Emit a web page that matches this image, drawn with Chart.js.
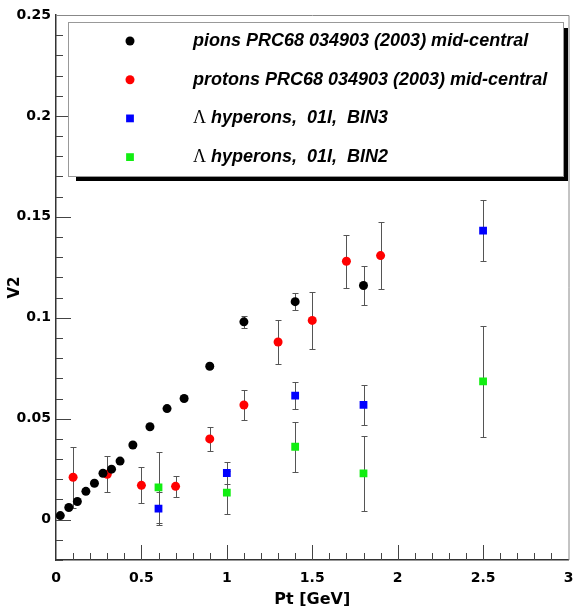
<!DOCTYPE html>
<html>
<head>
<meta charset="utf-8">
<script src="https://cdn.jsdelivr.net/npm/chart.js@4.4.0/dist/chart.umd.min.js"></script>
<style>
  html, body { margin: 0; padding: 0; background: #fff; }
  #wrap { position: relative; width: 574px; height: 609px; }
</style>
</head>
<body>
<div id="wrap"><canvas id="v2Chart" width="574" height="609"></canvas></div>
<script>
// pions PRC68 034903 (2003) mid-central
const pionPt  = [0.025, 0.075, 0.125, 0.175, 0.225, 0.275, 0.325, 0.375, 0.45, 0.55, 0.65, 0.75, 0.9, 1.1, 1.4, 1.8];
const pionV2  = [0.002, 0.006, 0.009, 0.014, 0.018, 0.023, 0.025, 0.029, 0.037, 0.046, 0.055, 0.060, 0.076, 0.098, 0.108, 0.116];
const pionErr = [0, 0, 0, 0, 0, 0, 0, 0, 0, 0, 0, 0, 0.001, 0.003, 0.0043, 0.0097];

// protons PRC68 034903 (2003) mid-central
const protonPt  = [0.1, 0.3, 0.5, 0.7, 0.9, 1.1, 1.3, 1.5, 1.7, 1.9];
const protonV2  = [0.021, 0.0225, 0.017, 0.0165, 0.040, 0.0568, 0.088, 0.0987, 0.128, 0.1308];
const protonErr = [0.015, 0.009, 0.009, 0.0053, 0.006, 0.0076, 0.0107, 0.014, 0.013, 0.0166];

// lambda hyperons, 01I
const lambdaPt = [0.6, 1.0, 1.4, 1.8, 2.5];
const bin3V2   = [0.0055, 0.0231, 0.0614, 0.0569, 0.1432];
const bin3Err  = [0.0083, 0.0055, 0.0066, 0.0098, 0.015];
const bin2V2   = [0.016, 0.0134, 0.0361, 0.0229, 0.0685];
const bin2Err  = [0.0175, 0.0108, 0.0125, 0.0184, 0.0276];

const legendLabels = [
  'pions PRC68 034903 (2003) mid-central',
  'protons PRC68 034903 (2003) mid-central',
  ' hyperons,  01I,  BIN3',
  ' hyperons,  01I,  BIN2'
];

const xTicks = [0, 0.5, 1, 1.5, 2, 2.5, 3];
const yTicks = [0, 0.05, 0.1, 0.15, 0.2, 0.25];

const toPoints = (xs, ys, errs) => xs.map((x, i) => ({ x: x, y: ys[i], err: errs[i] }));

// error bars, drawn under the markers
const errorBars = {
  id: 'errorBars',
  beforeDatasetsDraw(chart) {
    const { ctx, scales: { x, y } } = chart;
    ctx.save();
    ctx.strokeStyle = '#555';
    ctx.lineWidth = 1;
    chart.data.datasets.forEach((ds) => {
      ds.data.forEach((p) => {
        if (!p.err) return;
        const px = Math.round(x.getPixelForValue(p.x)) + 0.5;
        const top = Math.round(y.getPixelForValue(p.y + p.err)) + 0.5;
        const bot = Math.round(y.getPixelForValue(p.y - p.err)) + 0.5;
        ctx.beginPath();
        ctx.moveTo(px, top); ctx.lineTo(px, bot);
        ctx.moveTo(px - 3, top); ctx.lineTo(px + 3, top);
        ctx.moveTo(px - 3, bot); ctx.lineTo(px + 3, bot);
        ctx.stroke();
      });
    });
    ctx.restore();
  }
};

// ROOT style frame: ticks pointing inside, thin top/right border
const frameTicks = {
  id: 'frameTicks',
  afterDatasetsDraw(chart) {
    const { ctx, chartArea: a, scales: { x, y } } = chart;
    ctx.save();
    ctx.strokeStyle = '#444';
    ctx.lineWidth = 1;
    ctx.beginPath();
    for (let i = 1; i < 30; i++) {
      const v = i / 10;
      const px = Math.round(x.getPixelForValue(v)) + 0.5;
      const len = i % 5 === 0 ? 15 : 7;
      ctx.moveTo(px, a.bottom); ctx.lineTo(px, a.bottom - len);
    }
    for (let i = -2; i <= 25; i++) {
      const v = i / 100;
      const py = Math.round(y.getPixelForValue(v)) + 0.5;
      const len = i % 5 === 0 ? 15 : 7;
      ctx.moveTo(a.left, py); ctx.lineTo(a.left + len, py);
    }
    ctx.stroke();
    ctx.strokeStyle = '#888';
    ctx.beginPath();
    ctx.moveTo(a.left, a.top + 0.5); ctx.lineTo(a.right + 0.5, a.top + 0.5);
    ctx.lineTo(a.right + 0.5, a.bottom);
    ctx.stroke();
    ctx.restore();
  }
};

// legend box with a black drop shadow
const boxLegend = {
  id: 'boxLegend',
  afterDraw(chart) {
    const { ctx, chartArea: a } = chart;
    const bx = a.left + 12, by = a.top + 7, bw = 495, bh = 154;
    ctx.save();
    ctx.fillStyle = '#000';
    ctx.fillRect(bx + 8, by + 6, bw - 3, bh - 1);
    ctx.fillStyle = '#fff';
    ctx.fillRect(bx, by, bw, bh);
    ctx.strokeStyle = '#999';
    ctx.lineWidth = 1;
    ctx.strokeRect(bx + 0.5, by + 0.5, bw, bh);

    chart.data.datasets.forEach((ds, i) => {
      const ry = by + 19 + i * 38.7;
      ctx.fillStyle = ds.backgroundColor;
      Chart.helpers.drawPoint(ctx, { pointStyle: ds.pointStyle, radius: ds.pointRadius, borderWidth: 0 }, bx + 62, ry);
      ctx.fillStyle = '#000';
      ctx.textBaseline = 'middle';
      let tx = bx + 125;
      if (i >= 2) {
        ctx.font = '18px "Liberation Serif"';
        ctx.fillText('Λ', tx, ry);
        tx += ctx.measureText('Λ').width;
      }
      ctx.font = 'italic bold 18px "Liberation Sans"';
      ctx.fillText(legendLabels[i], tx, ry);
    });
    ctx.restore();
  }
};

const tickFont = { family: 'DejaVu Sans', weight: 'bold', size: 14 };

new Chart(document.getElementById('v2Chart'), {
  type: 'scatter',
  data: {
    datasets: [
      { label: legendLabels[0], data: toPoints(pionPt, pionV2, pionErr), pointStyle: 'circle', pointRadius: 4.5, backgroundColor: '#000000', borderWidth: 0 },
      { label: legendLabels[1], data: toPoints(protonPt, protonV2, protonErr), pointStyle: 'circle', pointRadius: 4.5, backgroundColor: '#ff0000', borderWidth: 0 },
      { label: legendLabels[2], data: toPoints(lambdaPt, bin3V2, bin3Err), pointStyle: 'rect', pointRadius: 5.5, backgroundColor: '#0000ff', borderWidth: 0 },
      { label: legendLabels[3], data: toPoints(lambdaPt, bin2V2, bin2Err), pointStyle: 'rect', pointRadius: 5.5, backgroundColor: '#11ee11', borderWidth: 0 }
    ]
  },
  options: {
    responsive: false,
    animation: false,
    layout: { padding: { top: 15, right: 3, left: 0, bottom: 0 } },
    plugins: { legend: { display: false }, tooltip: { enabled: false } },
    scales: {
      x: {
        type: 'linear',
        min: 0,
        max: 3,
        afterBuildTicks: (s) => { s.ticks = xTicks.map((v) => ({ value: v })); },
        afterFit: (s) => { s.height = 49; s.paddingLeft = 0; s.paddingRight = 0; },
        grid: { drawOnChartArea: false, drawTicks: false },
        border: { color: '#333', width: 1.5 },
        ticks: { font: tickFont, color: '#000', padding: 10, callback: (v) => String(+v.toFixed(2)) },
        title: { display: true, text: 'Pt [GeV]', font: { family: 'DejaVu Sans', weight: 'bold', size: 16 }, color: '#000', padding: { top: 0, bottom: 0 } }
      },
      y: {
        type: 'linear',
        min: -0.02,
        max: 0.25,
        afterBuildTicks: (s) => { s.ticks = yTicks.map((v) => ({ value: v })); },
        afterFit: (s) => { s.width = 56; s.paddingTop = 0; s.paddingBottom = 0; },
        grid: { drawOnChartArea: false, drawTicks: false },
        border: { color: '#333', width: 1.5 },
        ticks: { font: tickFont, color: '#000', padding: 5, callback: (v) => String(+v.toFixed(2)) },
        title: { display: true, text: 'V2', font: { family: 'DejaVu Sans', weight: 'bold', size: 15 }, color: '#000', padding: { top: 6, bottom: 0 } }
      }
    }
  },
  plugins: [errorBars, frameTicks, boxLegend]
});
</script>
</body>
</html>
